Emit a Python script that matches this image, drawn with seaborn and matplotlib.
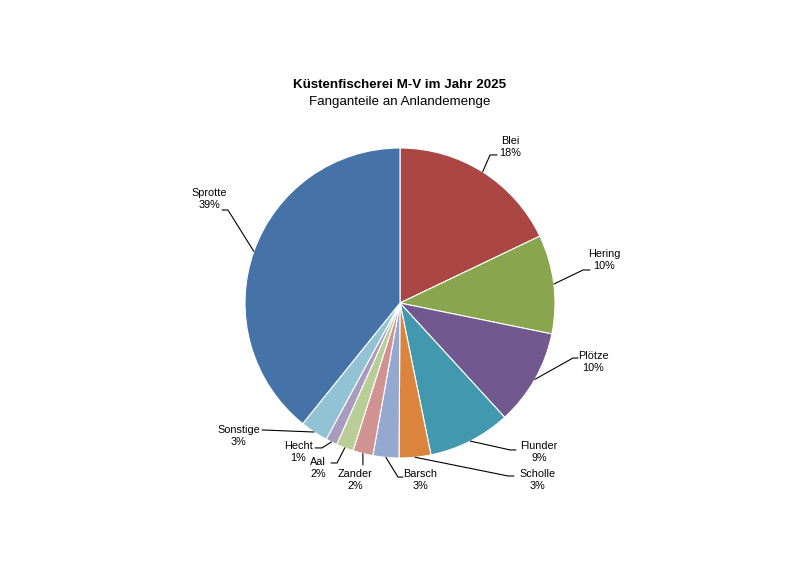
import numpy as np
import matplotlib
matplotlib.use("Agg")
import matplotlib.pyplot as plt
import seaborn as sns

# Fangdaten (Anteile in %), im Uhrzeigersinn ab 12 Uhr
species = ["Blei", "Hering", "Plötze", "Flunder", "Scholle", "Barsch",
           "Zander", "Aal", "Hecht", "Sonstige", "Sprotte"]
shares = [17.9, 10.3, 10.0, 8.6, 3.3, 2.7, 2.1, 1.8, 1.2, 2.9, 39.2]
colors = ["#AA4643", "#89A54E", "#71588F", "#4198AF", "#DB843D", "#93A9CF",
          "#D19392", "#B9CD96", "#A99BBD", "#91C3D5", "#4572A7"]

# label layout (in pie-radius units): text centre, leader elbow, leader end
text_pos = [(0.710, 1.006), (1.316, 0.277), (1.245, -0.381), (0.897, -0.961),
            (0.890, -1.142), (0.129, -1.142), (-0.290, -1.142), (-0.529, -1.065),
            (-0.658, -0.961), (-1.039, -0.858), (-1.232, 0.671)]
elbows = [(0.581, 0.955), (1.181, 0.213), (1.116, -0.355), (0.710, -0.948),
          (0.697, -1.116), (-0.013, -1.123), (-0.239, -1.045), (-0.406, -1.032),
          (-0.503, -0.935), (-0.890, -0.819), (-1.110, 0.600)]
ends = [(0.626, 0.955), (1.226, 0.213), (1.148, -0.355), (0.748, -0.948),
        (0.735, -1.116), (0.019, -1.123), (-0.239, -1.045), (-0.445, -1.032),
        (-0.548, -0.935), (-0.890, -0.819), (-1.148, 0.600)]

sns.set_theme(style="white")
plt.rcParams['font.family'] = ['Liberation Sans', 'DejaVu Sans']
plt.rcParams['text.color'] = 'black'

fig = plt.figure(figsize=(8, 5.66), dpi=100)
ax = fig.add_axes([245 / 800, 108 / 566, 310 / 800, 310 / 566])

wedges, _ = ax.pie(shares, colors=colors, startangle=90, counterclock=False,
                   radius=1, wedgeprops=dict(edgecolor="white", linewidth=0.8))
ax.set_xlim(-1, 1)
ax.set_ylim(-1, 1)
ax.axis("off")

for w, name, val, tp, el, en in zip(wedges, species, shares, text_pos, elbows, ends):
    mid = np.deg2rad((w.theta1 + w.theta2) / 2)
    start = (np.cos(mid), np.sin(mid))
    ax.plot([start[0], el[0], en[0]], [start[1], el[1], en[1]],
            color="black", lw=0.8, clip_on=False)
    ax.text(tp[0], tp[1], f"{name}\n{val:.0f}%", ha="center", va="center",
            fontsize=7.8, linespacing=1.3, color="black", clip_on=False)

fig.text(0.5, 1 - 85 / 566, "Küstenfischerei M-V im Jahr 2025", ha="center",
         va="center", fontsize=9.6, fontweight="bold", color="black")
fig.text(0.5, 1 - 102 / 566, "Fanganteile an Anlandemenge", ha="center",
         va="center", fontsize=9.6, color="black")

fig.savefig("out.png", dpi=100, facecolor="white")
